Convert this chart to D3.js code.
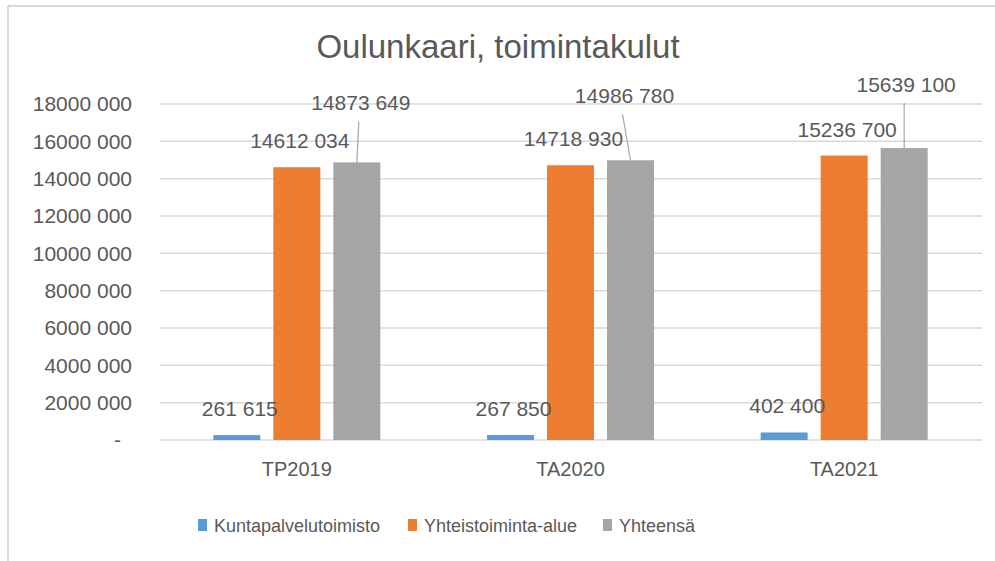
<!DOCTYPE html>
<meta charset="utf-8">
<title>Oulunkaari, toimintakulut</title>

<style>
	body { margin: 0; background: #fff; }
	svg { display: block; }
	text { font-family: "Liberation Sans", Arial, sans-serif; fill: #595959; }
	.grid line { stroke: #d9d9d9; stroke-width: 1.5px; }
	.leader { stroke: #a6a6a6; stroke-width: 1.2px; }
</style>
<body>
<script src="https://d3js.org/d3.v7.min.js"></script>
<script>

var categories = ["TP2019", "TA2020", "TA2021"];
var seriesNames = ["Kuntapalvelutoimisto", "Yhteistoiminta-alue", "Yhteensä"];
var kuntapalvelutoimisto = [261615, 267850, 402400];
var yhteistoiminta = [14612034, 14718930, 15236700];
var yhteensa = [14873649, 14986780, 15639100];
var yTicks = [0, 2000000, 4000000, 6000000, 8000000, 10000000, 12000000, 14000000, 16000000, 18000000];

var colors = ["#5b9bd5", "#ed7d31", "#a5a5a5"];

var width = 995,
	height = 561;

var margin = {left: 160, right: 14, top: 104, bottom: 121};

var svg = d3.select("body").append("svg")
	.attr("width", width)
	.attr("height", height);

// outer chart frame (only top and left edges are visible in the picture)
svg.append("line").attr("x1", 8).attr("y1", 6).attr("x2", width).attr("y2", 6)
	.attr("stroke", "#d9d9d9").attr("stroke-width", 2);
svg.append("line").attr("x1", 8).attr("y1", 6).attr("x2", 8).attr("y2", height)
	.attr("stroke", "#d9d9d9").attr("stroke-width", 2);

// Excel-ish "18000 000" format
function fmt(v) {
	if (v === 0) return "-";
	var th = Math.floor(v / 1000), rest = v % 1000;
	return th + " " + String(rest).padStart(3, "0");
}

var x = d3.scaleBand()
	.domain(categories)
	.range([margin.left, width - margin.right]);

var y = d3.scaleLinear()
	.domain([0, 18000000])
	.range([height - margin.bottom, margin.top]);

var data = categories.map(function(c, i) {
	return {cat: c, values: [kuntapalvelutoimisto[i], yhteistoiminta[i], yhteensa[i]]};
});

// gridlines
svg.append("g").attr("class", "grid")
	.selectAll("line").data(yTicks).enter().append("line")
	.attr("x1", margin.left).attr("x2", width - margin.right + 1)
	.attr("y1", function(d) { return y(d); })
	.attr("y2", function(d) { return y(d); });

// y axis labels
var yAxis = svg.append("g")
	.attr("transform", "translate(132,0)")
	.call(d3.axisLeft(y).tickValues(yTicks).tickFormat(fmt).tickSize(0).tickPadding(0));
yAxis.select(".domain").remove();
yAxis.selectAll("text")
	.attr("font-size", 21)
	.attr("font-family", "Liberation Sans, Arial, sans-serif")
	.attr("fill", "#595959")
	.attr("dx", function(d) { return d === 0 ? -11 : 0; });

// x axis labels
var xAxis = svg.append("g")
	.attr("transform", "translate(0," + y(0) + ")")
	.call(d3.axisBottom(x).tickSize(0).tickPadding(22));
xAxis.select(".domain").remove();
xAxis.selectAll("text")
	.attr("font-size", 20)
	.attr("font-family", "Liberation Sans, Arial, sans-serif")
	.attr("fill", "#595959");

// bars inside each group
var barW = 47, barGap = 13;
function barX(cat, j) {
	var c = x(cat) + x.bandwidth() / 2;
	return c - barW * 1.5 - barGap + j * (barW + barGap);
}

var groups = svg.selectAll(".group").data(data).enter().append("g").attr("class", "group");

groups.selectAll("rect")
	.data(function(d) { return d.values.map(function(v, j) { return {cat: d.cat, v: v, j: j}; }); })
	.enter().append("rect")
	.attr("x", function(d) { return barX(d.cat, d.j); })
	.attr("y", function(d) { return y(d.v); })
	.attr("width", barW)
	.attr("height", function(d) { return y(0) - y(d.v); })
	.attr("fill", function(d) { return colors[d.j]; });

// data labels for first two series: default position above bar
groups.selectAll(".lbl")
	.data(function(d) { return d.values.slice(0, 2).map(function(v, j) { return {cat: d.cat, v: v, j: j}; }); })
	.enter().append("text")
	.attr("class", "lbl")
	.attr("x", function(d) { return barX(d.cat, d.j) + barW / 2 + 3; })
	.attr("y", function(d) { return y(d.v) - 19; })
	.attr("text-anchor", "middle")
	.attr("font-size", 21)
	.text(function(d) { return fmt(d.v); });

// total labels were dragged upward, with leader lines
var totalOffset = [[4, -52], [-6, -57], [2, -56]];
yhteensa.forEach(function(v, i) {
	var cx = barX(categories[i], 2) + barW / 2;
	var lx = cx + totalOffset[i][0], ly = y(v) + totalOffset[i][1];
	svg.append("line").attr("class", "leader")
		.attr("x1", lx - 2).attr("y1", ly + 11)
		.attr("x2", cx).attr("y2", y(v));
	svg.append("text")
		.attr("x", lx)
		.attr("y", ly)
		.attr("text-anchor", "middle")
		.attr("font-size", 21)
		.text(fmt(v));
});

// title
svg.append("text")
	.attr("x", 498)
	.attr("y", 58)
	.attr("text-anchor", "middle")
	.attr("font-size", 33)
	.text("Oulunkaari, toimintakulut");

// legend
var legendX = [198, 408, 603];
var legend = svg.selectAll(".legend").data(seriesNames).enter().append("g")
	.attr("class", "legend")
	.attr("transform", function(d, i) { return "translate(" + legendX[i] + ",519)"; });
legend.append("rect").attr("width", 9).attr("height", 12)
	.attr("fill", function(d, i) { return colors[i]; });
legend.append("text").attr("x", 16).attr("y", 12.5)
	.attr("font-size", 18)
	.text(function(d) { return d; });

</script>
